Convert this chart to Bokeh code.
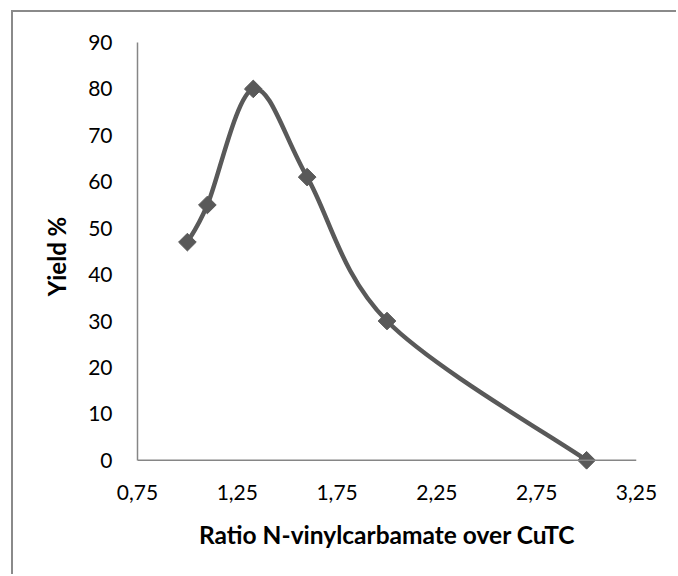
from bokeh.plotting import figure
from bokeh.models import Range1d, Span, FixedTicker
from bokeh.embed import file_html
from bokeh.resources import INLINE

# ---- data ----
ratio = [1.0, 1.1, 1.33, 1.6, 2.0, 3.0]
yield_pct = [47, 55, 80, 61, 30, 0]
x_ticks = [0.75, 1.25, 1.75, 2.25, 2.75, 3.25]
x_tick_labels = ["0,75", "1,25", "1,75", "2,25", "2,75", "3,25"]
y_ticks = [0, 10, 20, 30, 40, 50, 60, 70, 80, 90]

FONT = "Lato"
LINE = "#595959"
AXIS = "#868686"

p = figure(width=665, height=564, output_backend="svg", toolbar_location=None,
           x_range=Range1d(x_ticks[0], x_ticks[-1]),
           y_range=Range1d(-2.2, y_ticks[-1]),
           min_border_left=124, min_border_right=42,
           min_border_top=30, min_border_bottom=106,
           margin=(10, 0, 0, 11))
p.styles = {"border-left": "2px solid #8a8a8a", "border-top": "2px solid #8a8a8a"}
p.outline_line_color = None
p.grid.visible = False
p.background_fill_color = "white"
p.border_fill_color = "white"

# smooth (Excel-like) curve through the points as cubic Bezier segments
n = len(ratio)
def ctrl(v, i):
    prev = v[max(i - 1, 0)]
    nxt = v[min(i + 1, n - 1)]
    return (nxt - prev) / 6.0

x0 = ratio[:-1]; y0 = yield_pct[:-1]
x1 = ratio[1:]; y1 = yield_pct[1:]
cx0 = [ratio[i] + ctrl(ratio, i) for i in range(n - 1)]
cy0 = [yield_pct[i] + ctrl(yield_pct, i) for i in range(n - 1)]
cx1 = [ratio[i + 1] - ctrl(ratio, i + 1) for i in range(n - 1)]
cy1 = [yield_pct[i + 1] - ctrl(yield_pct, i + 1) for i in range(n - 1)]
p.bezier(x0=x0, y0=y0, x1=x1, y1=y1, cx0=cx0, cy0=cy0, cx1=cx1, cy1=cy1,
         line_color=LINE, line_width=4.5, line_cap="round")
p.scatter(ratio, yield_pct, marker="square", angle=0.785398, size=12.5,
          fill_color=LINE, line_color=LINE)

# x-axis baseline at y = 0
p.add_layout(Span(location=0, dimension="width", line_color=AXIS, line_width=1.5))

# x axis
xa = p.xaxis[0]
xa.ticker = FixedTicker(ticks=x_ticks)
xa.major_label_overrides = {t: l for t, l in zip(x_ticks, x_tick_labels)}
xa.axis_line_color = None
xa.major_tick_line_color = None
xa.minor_tick_line_color = None
xa.major_tick_out = 0
xa.major_tick_in = 0
xa.major_label_standoff = 14
xa.major_label_text_font = FONT
xa.major_label_text_font_size = "21px"
xa.major_label_text_color = "black"
xa.axis_label = "Ratio N-vinylcarbamate over CuTC"
xa.axis_label_text_font = FONT
xa.axis_label_text_font_style = "bold"
xa.axis_label_text_font_size = "24.5px"
xa.axis_label_text_color = "black"
xa.axis_label_standoff = 17

# y axis
ya = p.yaxis[0]
ya.ticker = FixedTicker(ticks=y_ticks)
ya.bounds = (y_ticks[0], y_ticks[-1])
ya.axis_line_color = AXIS
ya.axis_line_width = 1.5
ya.major_tick_line_color = None
ya.minor_tick_line_color = None
ya.major_tick_out = 0
ya.major_tick_in = 0
ya.major_label_standoff = 25
ya.major_label_text_font = FONT
ya.major_label_text_font_size = "21px"
ya.major_label_text_color = "black"
ya.axis_label = "Yield %"
ya.axis_label_text_font = FONT
ya.axis_label_text_font_style = "bold"
ya.axis_label_text_font_size = "24px"
ya.axis_label_text_color = "black"
ya.axis_label_standoff = 14

open("out.html", "w").write(file_html(p, INLINE))
